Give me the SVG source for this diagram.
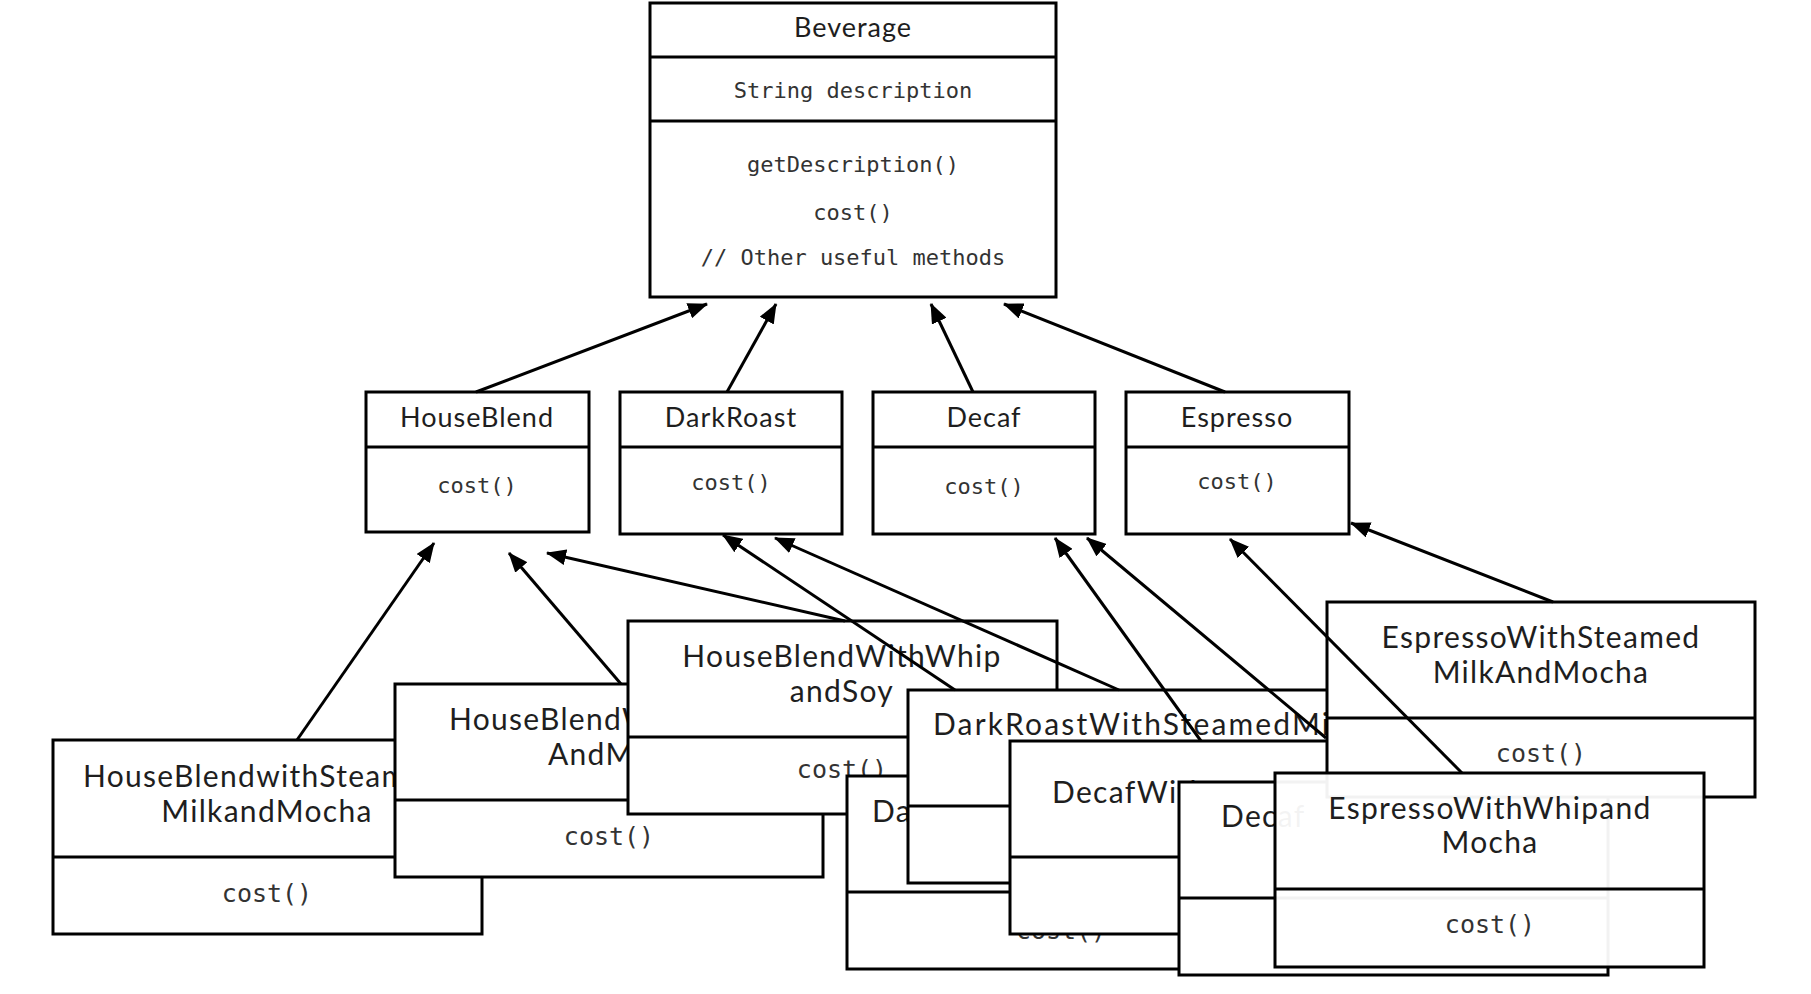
<svg xmlns="http://www.w3.org/2000/svg" width="1811" height="994" viewBox="0 0 1811 994">
<defs>
<style>
.box{fill:#fff;stroke:#000;stroke-width:3}
.ghost{fill:#fff;fill-opacity:0.95;stroke:#000;stroke-width:3}
.dv{stroke:#000;stroke-width:3}
.t{font-family:Lato,"Liberation Sans",sans-serif;font-size:27px;letter-spacing:1px;fill:#1e1e1e}
.tb{font-family:Lato,"Liberation Sans",sans-serif;font-size:30px;letter-spacing:1.3px;fill:#1e1e1e}
.m{font-family:"DejaVu Sans Mono","Liberation Mono",monospace;font-size:22px;fill:#333}
.mb{font-family:"DejaVu Sans Mono","Liberation Mono",monospace;font-size:25px;fill:#333}
.c{text-anchor:middle}
.conn line{stroke:#000;stroke-width:3;marker-end:url(#ah)}
</style>
<marker id="ah" markerUnits="userSpaceOnUse" markerWidth="20" markerHeight="16" refX="19" refY="8" orient="auto">
<path d="M0,0 L20,8 L0,16 Z" fill="#000"/>
</marker>
</defs>
<rect width="1811" height="994" fill="#fff"/>

<g id="beverage">
<rect class="box" x="650" y="3" width="406" height="294"/>
<line class="dv" x1="650" y1="57" x2="1056" y2="57"/>
<line class="dv" x1="650" y1="121" x2="1056" y2="121"/>
<text class="t c" x="853" y="37">Beverage</text>
<text class="m c" x="853" y="98">String description</text>
<text class="m c" x="853" y="172">getDescription()</text>
<text class="m c" x="853" y="220">cost()</text>
<text class="m c" x="853" y="265">// Other useful methods</text>
</g>

<g id="houseblend">
<rect class="box" x="366" y="392" width="223" height="140"/>
<line class="dv" x1="366" y1="447" x2="589" y2="447"/>
<text class="t c" x="477" y="427">HouseBlend</text>
<text class="m c" x="477" y="493">cost()</text>
</g>
<g id="darkroast">
<rect class="box" x="620" y="392" width="222" height="142"/>
<line class="dv" x1="620" y1="447" x2="842" y2="447"/>
<text class="t c" x="731" y="427">DarkRoast</text>
<text class="m c" x="731" y="490">cost()</text>
</g>
<g id="decaf">
<rect class="box" x="873" y="392" width="222" height="142"/>
<line class="dv" x1="873" y1="447" x2="1095" y2="447"/>
<text class="t c" x="984" y="427">Decaf</text>
<text class="m c" x="984" y="494">cost()</text>
</g>
<g id="espresso">
<rect class="box" x="1126" y="392" width="223" height="142"/>
<line class="dv" x1="1126" y1="447" x2="1349" y2="447"/>
<text class="t c" x="1237" y="427">Espresso</text>
<text class="m c" x="1237" y="489">cost()</text>
</g>

<g id="hb-steamed-milk-mocha">
<rect class="box" x="53" y="740" width="429" height="194"/>
<line class="dv" x1="53" y1="857" x2="482" y2="857"/>
<text class="tb" x="83" y="787">HouseBlendwithSteamed</text>
<text class="tb c" x="267" y="822">MilkandMocha</text>
<text class="mb c" x="267" y="902">cost()</text>
</g>
<g id="hb-whip-mocha">
<rect class="box" x="395" y="684" width="428" height="193"/>
<line class="dv" x1="395" y1="800" x2="823" y2="800"/>
<text class="tb" x="449" y="730">HouseBlendWithWhip</text>
<text class="tb" x="548" y="765">AndMocha</text>
<text class="mb c" x="609" y="845">cost()</text>
</g>
<g id="hb-whip-soy">
<rect class="box" x="628" y="621" width="429" height="193"/>
<line class="dv" x1="628" y1="737" x2="1057" y2="737"/>
<text class="tb c" x="842" y="667">HouseBlendWithWhip</text>
<text class="tb c" x="842" y="702">andSoy</text>
<text class="mb c" x="842" y="778">cost()</text>
</g>
<g id="dr-whip-mocha">
<rect class="box" x="847" y="776" width="429" height="193"/>
<line class="dv" x1="847" y1="892" x2="1276" y2="892"/>
<text class="tb" x="872" y="822">DarkRoast</text>
<text class="mb c" x="1061" y="939">cost()</text>
</g>
<g id="dr-steamed-milk-mocha">
<rect class="box" x="908" y="690" width="429" height="193"/>
<line class="dv" x1="908" y1="806" x2="1337" y2="806"/>
<text class="tb" x="933" y="735" style="letter-spacing:2.15px">DarkRoastWithSteamedMilk</text>
</g>
<g id="decaf-whip-mocha">
<rect class="box" x="1010" y="741" width="429" height="193"/>
<line class="dv" x1="1010" y1="857" x2="1439" y2="857"/>
<text class="tb" x="1052" y="803">DecafWith</text>
</g>
<g id="decaf-steamed-milk-mocha">
<rect class="box" x="1179" y="782" width="429" height="193"/>
<line class="dv" x1="1179" y1="898" x2="1608" y2="898"/>
<text class="tb" x="1221" y="827">Decaf</text>
</g>
<g id="espresso-steamed-milk-mocha">
<rect class="box" x="1327" y="602" width="428" height="195"/>
<line class="dv" x1="1327" y1="718" x2="1755" y2="718"/>
<text class="tb c" x="1541" y="648">EspressoWithSteamed</text>
<text class="tb c" x="1541" y="683">MilkAndMocha</text>
<text class="mb c" x="1541" y="762">cost()</text>
</g>
<g id="espresso-whip-mocha">
<rect class="ghost" x="1275" y="773" width="429" height="194"/>
<line class="dv" x1="1275" y1="889" x2="1704" y2="889"/>
<text class="tb c" x="1490" y="819">EspressoWithWhipand</text>
<text class="tb c" x="1490" y="853">Mocha</text>
<text class="mb c" x="1490" y="933">cost()</text>
</g>

<g id="connectors" class="conn">
<line x1="476" y1="392" x2="707" y2="304"/>
<line x1="727" y1="392" x2="776" y2="304"/>
<line x1="973" y1="392" x2="931" y2="304"/>
<line x1="1225" y1="392" x2="1004" y2="304"/>
<line x1="297" y1="740" x2="434" y2="543"/>
<line x1="621" y1="684" x2="509" y2="553"/>
<line x1="845" y1="621" x2="547" y2="553"/>
<line x1="955" y1="690" x2="723" y2="535"/>
<line x1="1119" y1="690" x2="775" y2="538"/>
<line x1="1201" y1="741" x2="1055" y2="538"/>
<line x1="1326" y1="738" x2="1087" y2="538"/>
<line x1="1553" y1="602" x2="1351" y2="523"/>
<line x1="1462" y1="773" x2="1230" y2="539"/>
</g>
</svg>
